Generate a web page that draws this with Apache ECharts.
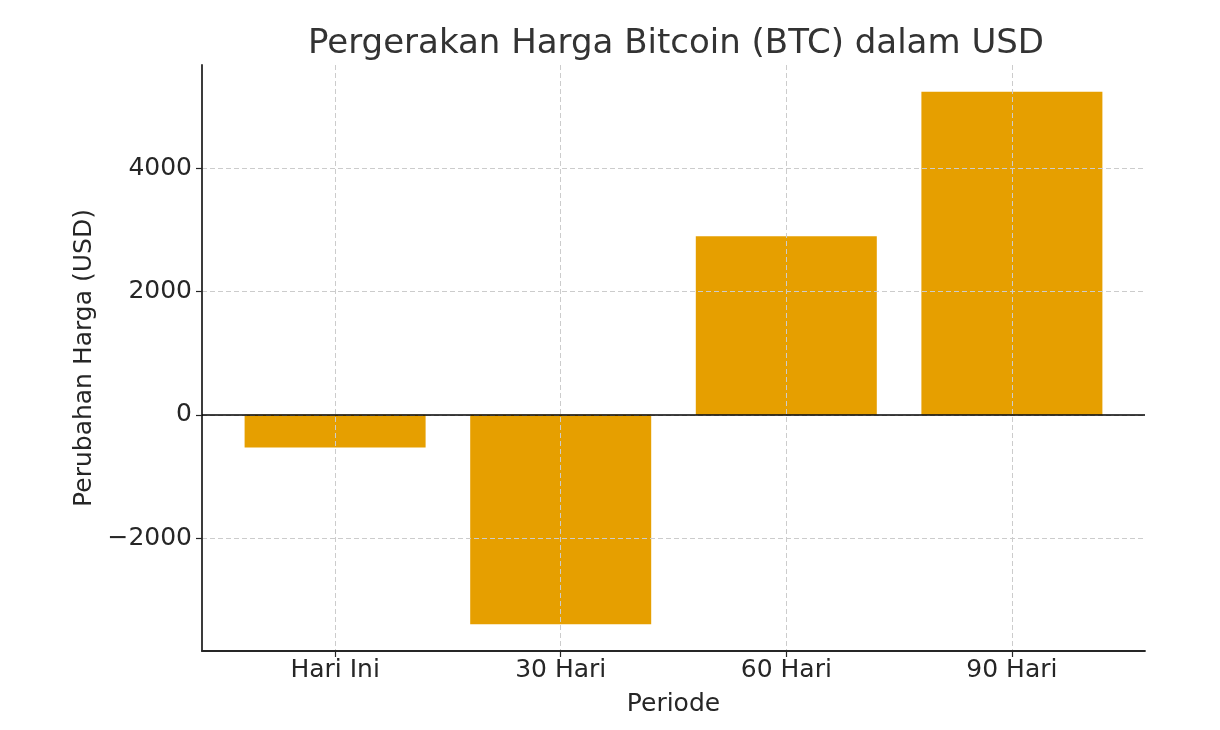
<!DOCTYPE html>
<html>
<head>
<meta charset="utf-8">
<script src="https://cdn.jsdelivr.net/npm/echarts@6/dist/echarts.min.js"></script>
<style>html,body{margin:0;padding:0;background:#fff}#c{width:1220px;height:730px}</style>
</head>
<body>
<div id="c"></div>
<script>
const categories = ['Hari Ini', '30 Hari', '60 Hari', '90 Hari'];
const values = [-530, -3400, 2900, 5245];
const yTicks = [-2000, 0, 2000, 4000];
const title = 'Pergerakan Harga Bitcoin (BTC) dalam USD';
const xName = 'Periode';
const yName = 'Perubahan Harga (USD)';

const font = 'DejaVu Sans';
const chart = echarts.init(document.getElementById('c'), null, {renderer: 'canvas'});
const vmin = Math.min(...values, 0), vmax = Math.max(...values, 0);
const pad = (vmax - vmin) * 0.05;
const idx = categories.map((_, i) => i);

chart.setOption({
  animation: false,
  backgroundColor: '#fff',
  title: {
    text: title, left: 671, top: 22, textAlign: 'center',
    textStyle: {fontFamily: font, fontSize: 34, fontWeight: 'normal', color: '#333'}
  },
  grid: {left: 202, right: 75, top: 65, bottom: 79, containLabel: false},
  xAxis: {
    type: 'value', min: -0.59, max: categories.length - 0.41, z: 5,
    name: xName, nameLocation: 'middle', nameGap: 41,
    nameTextStyle: {fontFamily: font, fontSize: 25, color: '#262626'},
    axisLine: {show: true, onZero: false, lineStyle: {color: '#262626', width: 1.8}},
    axisTick: {show: true, customValues: idx, length: 6, lineStyle: {color: '#262626', width: 1.2}},
    axisLabel: {customValues: idx, margin: 7, fontFamily: font, fontSize: 25, color: '#262626',
      formatter: v => categories[Math.round(v)] ?? ''},
    splitLine: {show: true, lineStyle: {color: '#cccccc', type: [5, 3], width: 1}}
  },
  yAxis: {
    type: 'value', min: vmin - pad, max: vmax + pad, z: 5,
    name: yName, nameLocation: 'middle', nameGap: 101, nameRotate: 90,
    nameTextStyle: {fontFamily: font, fontSize: 25, color: '#262626'},
    axisLine: {show: true, onZero: false, lineStyle: {color: '#262626', width: 1.8}},
    axisTick: {show: true, customValues: yTicks, length: 6, lineStyle: {color: '#262626', width: 1.2}},
    axisLabel: {customValues: yTicks, margin: 10, fontFamily: font, fontSize: 25, color: '#262626',
      formatter: v => String(v).replace('-', '\u2212')},
    splitLine: {show: true, lineStyle: {color: '#cccccc', type: [5, 3], width: 1}}
  },
  series: [{
    type: 'bar',
    data: values.map((v, i) => [i, v]),
    barWidth: 181,
    itemStyle: {color: '#E69F00'},
    markLine: {
      silent: true, symbol: 'none', z: 6,
      label: {show: false},
      lineStyle: {color: '#000', type: 'solid', width: 1.5},
      data: [{yAxis: 0}]
    }
  }]
});
</script>
</body>
</html>
